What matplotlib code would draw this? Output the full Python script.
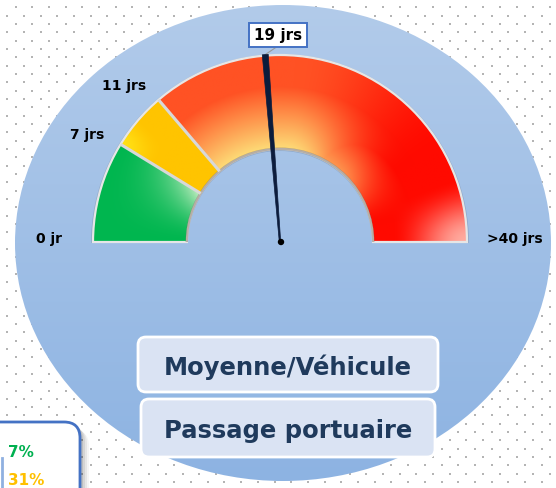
import numpy as np
import matplotlib
matplotlib.use("Agg")
import matplotlib.pyplot as plt
from matplotlib.patches import Wedge, Ellipse, FancyBboxPatch, Polygon, Circle

# gauge data
thresholds = [0, 7, 11, 40]
threshold_labels = ["0 jr", "7 jrs", "11 jrs", ">40 jrs"]
value = 19
value_label = "19 jrs"
titles = ["Moyenne/Véhicule", "Passage portuaire"]
pct_values = ["7%", "31%"]
pct_colors = ["#00b050", "#ffc000"]

W, H = 556, 489
vmax = thresholds[-1]
cx, cy = 280, 246          # gauge centre (data coords, y up)
r_out, r_in = 187, 93


def angle_of(v):
    # degrees, counter-clockwise from +x
    return 180.0 - v / vmax * 180.0


def smooth(x, a, b):
    t = np.clip((x - a) / (b - a), 0, 1)
    return t * t * (3 - 2 * t)


def hexrgb(h):
    return np.array(matplotlib.colors.to_rgb(h))


fig = plt.figure(figsize=(W / 100, H / 100), dpi=100)
ax = fig.add_axes([0, 0, 1, 1])
ax.set_xlim(0, W)
ax.set_ylim(0, H)
ax.set_aspect("auto")
ax.axis("off")
fig.patch.set_facecolor("white")

# dotted background
xs, ys = [], []
row = 0
for yy in np.arange(H, -10, -8.33):
    off = 7.3 if row % 2 == 0 else 15.6
    for xx in np.arange(off, W + 10, 16.7):
        xs.append(xx)
        ys.append(yy)
    row += 1
ax.scatter(xs, ys, s=1.6, marker="s", color="#b4b4b4", lw=0, zorder=0)

# big blue disc with vertical gradient
ell = Ellipse((283, 245), 536, 476, facecolor="none", edgecolor="none", zorder=1)
ax.add_patch(ell)
grad = np.linspace(0, 1, 256)[:, None]
top, bot = hexrgb("#b2cbea"), hexrgb("#8db3e2")
img = (top[None, None, :] * (1 - grad[..., None]) + bot[None, None, :] * grad[..., None])
img = np.repeat(img, 2, axis=1)
im = ax.imshow(img, extent=[15, 551, 7, 483], origin="upper", zorder=1, aspect="auto")
im.set_clip_path(ell)

# gauge colouring
a7 = thresholds[1] / vmax * 180
a11 = thresholds[2] / vmax * 180
gx = np.linspace(cx - r_out, cx + r_out, 600)
gy = np.linspace(cy, cy + r_out, 300)
X, Y = np.meshgrid(gx, gy)
R = np.hypot(X - cx, Y - cy)
A = 180 - np.degrees(np.arctan2(Y - cy, X - cx))   # 0 at left, 180 at right
rn = np.clip((R - r_in) / (r_out - r_in), 0, 1)

green, pale_green = hexrgb("#00b64f"), hexrgb("#d4f2cc")
w_g = np.clip((1 - rn) ** 1.8 * (A / a7) ** 1.8, 0, 1) * 0.95
col_g = green * (1 - w_g[..., None]) + pale_green * w_g[..., None]

yel, yel_hi = hexrgb("#ffc400"), hexrgb("#ffe81a")
w_y = smooth(rn, 0.55, 1.0) * (1 - smooth(A, a7, a7 + 10)) * 0.8
col_y = yel * (1 - w_y[..., None]) + yel_hi * w_y[..., None]

red1, red2 = hexrgb("#ff5224"), hexrgb("#ff0a00")
light_y = hexrgb("#fde47c")
pink = hexrgb("#ffc8bc")
base = red1 * (1 - smooth(A, 95, 150)[..., None]) + red2 * smooth(A, 95, 150)[..., None]
w_l = np.clip(1 - rn * 1.5, 0, 1) * (1 - smooth(A, 95, 150)) * 0.95
w_l = np.maximum(w_l, np.clip(1 - rn * 2.2, 0, 1) * (1 - smooth(A, 130, 170)) * 0.6)
col_r = base * (1 - w_l[..., None]) + light_y * w_l[..., None]
w_p = smooth(A, 160, 180) * smooth(rn, 0.2, 1.0) * 0.85
col_r = col_r * (1 - w_p[..., None]) + pink * w_p[..., None]

col = np.where((A < a7)[..., None], col_g, np.where((A < a11)[..., None], col_y, col_r))
gauge = Wedge((cx, cy), r_out, 0, 180, width=r_out - r_in, facecolor="none",
              edgecolor="none", zorder=3)
ax.add_patch(gauge)
gim = ax.imshow(col, extent=[gx[0], gx[-1], gy[0], gy[-1]], origin="lower",
                zorder=3, aspect="auto")
gim.set_clip_path(gauge)

# rim, shadow and segment borders
ax.add_patch(Wedge((cx, cy - 1), r_out + 2, 0, 180, width=r_out - r_in + 3,
                   facecolor="#6f7f95", edgecolor="none", alpha=0.35, zorder=2))
ax.add_patch(Wedge((cx, cy), r_out, 0, 180, width=r_out - r_in, facecolor="none",
                   edgecolor="#e6e6e6", lw=1.6, zorder=4))
ax.add_patch(Wedge((cx, cy), r_in + 1.5, 0, 180, width=2.5, facecolor="#7a6a5a",
                   edgecolor="none", alpha=0.45, zorder=4))
for v in thresholds[1:3]:
    t = np.radians(angle_of(v))
    ax.plot([cx + r_in * np.cos(t), cx + r_out * np.cos(t)],
            [cy + r_in * np.sin(t), cy + r_out * np.sin(t)],
            color="#d8d8d8", lw=2.2, zorder=4, solid_capstyle="butt")

# threshold labels
for v, lab in zip(thresholds, threshold_labels):
    t = np.radians(angle_of(v))
    px, py = cx + 206 * np.cos(t), cy + 206 * np.sin(t)
    if v == 0:
        px, py = cx - 218, cy + 4
    if v == vmax:
        ax.text(cx + 207, cy + 4, lab, ha="left", va="center", fontsize=10,
                fontweight="bold", color="black", zorder=6)
    else:
        ax.text(px, py, lab, ha="right", va="center", fontsize=10,
                fontweight="bold", color="black", zorder=6)

# needle
t = np.radians(angle_of(value))
ux, uy = np.cos(t), np.sin(t)
nx_, ny_ = -uy, ux
tip = (cx + (r_out + 1) * ux, cy + (r_out + 1) * uy)
needle = Polygon([(cx + 0.7 * nx_, cy + 0.7 * ny_),
                  (tip[0] + 3.0 * nx_, tip[1] + 3.0 * ny_),
                  (tip[0] - 3.0 * nx_, tip[1] - 3.0 * ny_),
                  (cx - 0.7 * nx_, cy - 0.7 * ny_)],
                 closed=True, facecolor="#0c1c3c", edgecolor="#0c1c3c", lw=0.5, zorder=7)
ax.add_patch(needle)
ax.add_patch(Circle((cx + 1, cy), 3.2, facecolor="black", zorder=8))

# value label
ax.plot([tip[0], 278], [tip[1], H - 47], color="#9a9a9a", lw=0.8, zorder=6)
ax.text(278, H - 36, value_label, ha="center", va="center", fontsize=11,
        fontweight="bold", color="black", zorder=9,
        bbox=dict(boxstyle="square,pad=0.3", facecolor="white",
                  edgecolor="#4472c4", lw=1.4))

# title boxes
for (x0, y0, w, h), txt in zip([(138, H - 393, 300, 55), (141, H - 458, 294, 58)], titles):
    ax.add_patch(FancyBboxPatch((x0 + 6, y0 + 6), w - 12, h - 12,
                                boxstyle="round,pad=6,rounding_size=8",
                                facecolor="#dae3f3", edgecolor="white", lw=2, zorder=5))
    ax.text(x0 + w / 2, y0 + h / 2 - 2, txt, ha="center", va="center", fontsize=17.5,
            fontweight="bold", color="#1f3a5c", zorder=6)

# partial legend box bottom-left
for k, a in enumerate([0.10, 0.08, 0.06, 0.04]):
    ax.add_patch(FancyBboxPatch((-20 + 2 * k + 3, -30 - 2 * k), 100, 94,
                                boxstyle="round,pad=0,rounding_size=16",
                                facecolor="black", edgecolor="none", alpha=a, zorder=5))
ax.add_patch(FancyBboxPatch((-20, -30), 100, 96, boxstyle="round,pad=0,rounding_size=16",
                            facecolor="white", edgecolor="#4472c4", lw=2, zorder=6))
ax.plot([1.5, 1.5], [0, 30], color="#8fb0e0", lw=2, zorder=7)
for i, (p, c) in enumerate(zip(pct_values, pct_colors)):
    ax.text(8, H - 453 - 28 * i, p, ha="left", va="center", fontsize=11,
            fontweight="bold", color=c, zorder=7)

fig.savefig("out.png", dpi=100)
